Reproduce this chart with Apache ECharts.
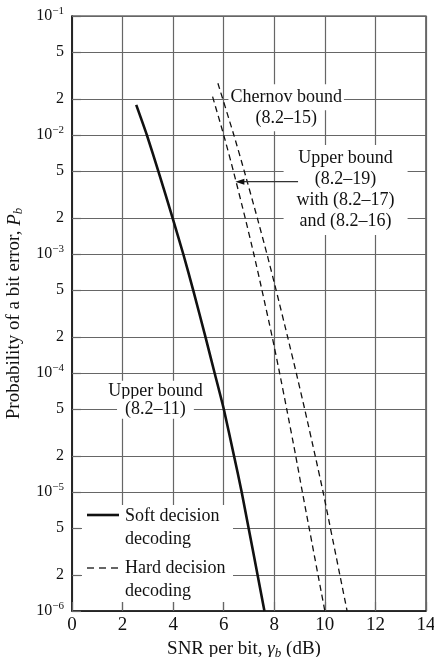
<!DOCTYPE html>
<html>
<head>
<meta charset="utf-8">
<script src="https://cdn.jsdelivr.net/npm/echarts@6/dist/echarts.min.js"></script>
<style>
  html, body { margin: 0; padding: 0; background: #fff; }
  #chart { width: 434px; height: 657px; }
</style>
</head>
<body>
<div id="chart"></div>
<script>
// Tick positions
const xTicks = [0, 2, 4, 6, 8, 10, 12, 14];
const yTicks = [1e-6, 2e-6, 5e-6, 1e-5, 2e-5, 5e-5, 1e-4, 2e-4, 5e-4,
                1e-3, 2e-3, 5e-3, 1e-2, 2e-2, 5e-2, 1e-1];

// Soft decision decoding, upper bound (8.2-11)
const softSnr = [2.54, 2.96, 3.41, 3.98, 4.40, 4.79, 5.28, 5.64, 6.0, 6.41, 6.71, 7.61];
const softPb  = [1.79e-2, 1e-2, 5e-3, 2e-3, 1e-3, 5e-4, 2e-4, 1e-4, 5e-5, 2e-5, 1e-5, 1e-6];

// Hard decision decoding, upper bound (8.2-19) with (8.2-17) and (8.2-16)
const hardUpperSnr = [5.56, 6.0, 6.38, 6.85, 7.19, 7.51, 7.92, 8.21, 8.49, 8.85, 9.11, 10.0];
const hardUpperPb  = [2.1e-2, 1e-2, 5e-3, 2e-3, 1e-3, 5e-4, 2e-4, 1e-4, 5e-5, 2e-5, 1e-5, 1e-6];

// Hard decision decoding, Chernov bound (8.2-15)
const chernovSnr = [5.77, 6.40, 6.81, 7.33, 7.71, 8.07, 8.53, 8.87, 9.20, 9.62, 9.93, 10.88];
const chernovPb  = [2.72e-2, 1e-2, 5e-3, 2e-3, 1e-3, 5e-4, 2e-4, 1e-4, 5e-5, 2e-5, 1e-5, 1e-6];

const FONT = '"Liberation Serif", "Times New Roman", serif';
const INK = '#111';
const GRID = '#666';
const DASH = [6, 4];

function pairs(xs, ys) { return xs.map((x, i) => [x, ys[i]]); }

// 10^k at decades, the bare mantissa (2, 5) in between
function logLabel(v) {
  const e = Math.floor(Math.log10(v) + 1e-9);
  const m = Math.round(v / Math.pow(10, e));
  if (m === 1) return '{m|10}{e|\u2212' + (-e) + '}';
  return '{d|' + m + '}';
}

const chart = echarts.init(document.getElementById('chart'));

chart.setOption({
  animation: false,
  backgroundColor: '#fff',
  grid: {
    left: 72, right: 8, top: 16, bottom: 46,
    outerBoundsMode: 'none', containLabel: false,
    show: true, borderColor: '#222', borderWidth: 1.2
  },
  xAxis: {
    type: 'value', min: 0, max: 14, interval: 2,
    axisLine: { show: true, onZero: false, lineStyle: { color: '#111', width: 1.5 } },
    axisTick: { show: true, inside: true, length: 9, customValues: xTicks, lineStyle: { color: GRID, width: 1.2 } },
    axisLabel: { customValues: xTicks, fontSize: 19, color: INK, fontFamily: FONT, margin: 5 },
    splitLine: { show: true, lineStyle: { color: GRID, width: 1.2 } },
    name: 'SNR per bit, {g|\u03b3}{s|b} (dB)',
    nameLocation: 'middle', nameGap: 21,
    nameTextStyle: {
      fontSize: 19, color: INK, fontFamily: FONT, padding: [0, 10, 0, 0],
      rich: {
        g: { fontSize: 19, fontStyle: 'italic', fontFamily: FONT, color: INK },
        s: { fontSize: 13, fontStyle: 'italic', fontFamily: FONT, color: INK, padding: [8, 0, 0, 0] }
      }
    }
  },
  yAxis: {
    type: 'log', logBase: 10, min: 1e-6, max: 1e-1,
    axisLine: { show: true, lineStyle: { color: '#111', width: 1.5 } },
    axisTick: { show: true, inside: true, length: 9, customValues: yTicks, lineStyle: { color: GRID, width: 1.2 } },
    minorTick: { show: false },
    axisLabel: {
      customValues: yTicks, formatter: logLabel, margin: 8,
      rich: {
        m: { fontSize: 16, fontFamily: FONT, color: INK },
        e: { fontSize: 11, fontFamily: FONT, color: INK, padding: [0, 0, 9, 0] },
        d: { fontSize: 16, fontFamily: FONT, color: INK }
      }
    },
    splitLine: { show: true, lineStyle: { color: GRID, width: 1.2 } },
    name: 'Probability of a bit error, {p|P}{s|b}',
    nameLocation: 'middle', nameGap: 47, nameRotate: 90,
    nameTextStyle: {
      fontSize: 19, color: INK, fontFamily: FONT,
      rich: {
        p: { fontSize: 19, fontStyle: 'italic', fontFamily: FONT, color: INK },
        s: { fontSize: 13, fontStyle: 'italic', fontFamily: FONT, color: INK, padding: [8, 0, 0, 0] }
      }
    }
  },
  series: [
    {
      type: 'line', name: 'Soft decision decoding',
      data: pairs(softSnr, softPb),
      symbol: 'none', smooth: 0.2, z: 3,
      lineStyle: { color: '#111', width: 2.6 }
    },
    {
      type: 'line', name: 'Upper bound (8.2\u201319)',
      data: pairs(hardUpperSnr, hardUpperPb),
      symbol: 'none', smooth: 0.2, z: 3,
      lineStyle: { color: '#111', width: 1.3, type: DASH }
    },
    {
      type: 'line', name: 'Chernov bound (8.2\u201315)',
      data: pairs(chernovSnr, chernovPb),
      symbol: 'none', smooth: 0.2, z: 3,
      lineStyle: { color: '#111', width: 1.3, type: DASH }
    }
  ]
});

// Annotations and legend, placed from data coordinates
function px(x, y) { return chart.convertToPixel({ gridIndex: 0 }, [x, y]); }

function label(text, at, dy, pad) {
  const p = px(at[0], at[1]);
  return {
    type: 'text', z: 10,
    style: {
      text: text, x: p[0], y: p[1] + (dy || 0),
      font: '18px ' + FONT, fill: INK,
      align: 'center', verticalAlign: 'middle',
      backgroundColor: '#fff', padding: pad
    }
  };
}

const origin = px(0, 1e-6);
const ox = origin[0], oy = origin[1];
const arrowTip = px(6.46, 4.05e-3);
const arrowTail = px(8.94, 4.05e-3);
const ubAnchor = px(10.82, 1e-2);

chart.setOption({
  graphic: [
    // Chernov bound
    label('Chernov bound', [8.47, 2e-2], -2, [4, 2, 4, 2]),
    label('(8.2\u201315)', [8.47, 2e-2], 19, [4, 2, 4, 2]),
    // Upper bound (8.2-19)
    {
      type: 'text', z: 10,
      style: {
        text: 'Upper bound\n(8.2\u201319)\nwith (8.2\u201317)\nand (8.2\u201316)',
        x: ubAnchor[0], y: ubAnchor[1] + 55,
        font: '18px ' + FONT, fill: INK, lineHeight: 21,
        align: 'center', verticalAlign: 'middle',
        backgroundColor: '#fff', padding: [3, 13, 3, 13]
      }
    },
    {
      type: 'line', z: 11,
      shape: { x1: arrowTip[0] + 6, y1: arrowTip[1], x2: arrowTail[0], y2: arrowTail[1] },
      style: { stroke: '#333', lineWidth: 1.2 }
    },
    {
      type: 'polygon', z: 11,
      shape: { points: [[arrowTip[0], arrowTip[1]], [arrowTip[0] + 9, arrowTip[1] - 3], [arrowTip[0] + 9, arrowTip[1] + 3]] },
      style: { fill: '#111' }
    },
    // Upper bound (8.2-11)
    label('Upper bound', [3.3, 5e-5], -18, [2, 2, 0, 2]),
    label('(8.2\u201311)', [3.3, 5e-5], 0, [0, 8, 2, 8]),
    // Legend
    {
      type: 'rect', z: 9,
      shape: { x: ox + 10, y: oy - 106, width: 151, height: 97 },
      style: { fill: '#fff' }
    },
    {
      type: 'line', z: 11,
      shape: { x1: ox + 15, y1: oy - 96, x2: ox + 47, y2: oy - 96 },
      style: { stroke: '#111', lineWidth: 2.6 }
    },
    {
      type: 'line', z: 11,
      shape: { x1: ox + 15, y1: oy - 43, x2: ox + 47, y2: oy - 43 },
      style: { stroke: '#333', lineWidth: 1.3, lineDash: [7, 5] }
    },
    {
      type: 'text', z: 11,
      style: {
        text: 'Soft decision\ndecoding', x: ox + 53, y: oy - 95 - 11.5,
        font: '18px ' + FONT, fill: INK, lineHeight: 23,
        align: 'left', verticalAlign: 'top'
      }
    },
    {
      type: 'text', z: 11,
      style: {
        text: 'Hard decision\ndecoding', x: ox + 53, y: oy - 43 - 11.5,
        font: '18px ' + FONT, fill: INK, lineHeight: 23,
        align: 'left', verticalAlign: 'top'
      }
    }
  ]
});
</script>
</body>
</html>
